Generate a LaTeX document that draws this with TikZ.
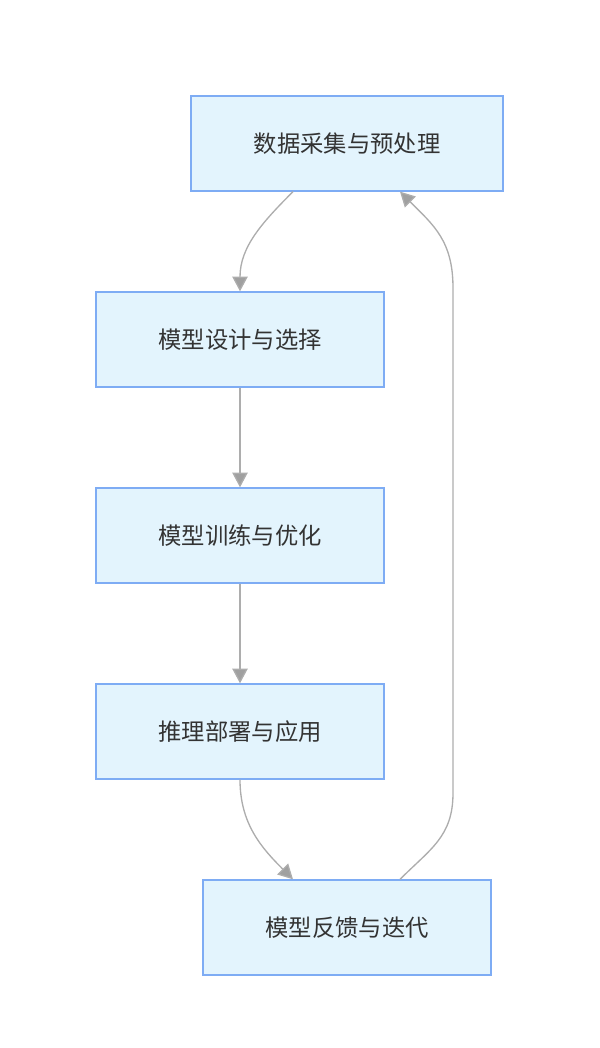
\documentclass[tikz,border=0pt]{standalone}
\usepackage{fontspec}
\newfontfamily\cjk{Noto Sans CJK SC}
\usetikzlibrary{arrows.meta,calc}

\definecolor{boxfill}{HTML}{E3F4FD}
\definecolor{boxline}{HTML}{7EACF4}
\definecolor{linkgray}{HTML}{ADADAD}
\definecolor{tipgray}{HTML}{A0A0A0}
\definecolor{txt}{HTML}{333333}

\tikzset{
  stage/.style={draw=boxline, fill=boxfill, line width=1pt,
    minimum width=216pt, minimum height=71.25pt, inner sep=0pt,
    text=txt, font=\cjk\fontsize{17.5}{20}\selectfont},
  link/.style={draw=linkgray, line width=1pt,
    -{Triangle[length=11pt,width=11.5pt,fill=tipgray]}}
}

\begin{document}
\begin{tikzpicture}[x=0.75pt,y=0.75pt]
        \useasboundingbox (0,0) rectangle (599,1048);

        % ---- the five stages ----------------------------
        \node[stage, minimum width=234pt] (data)   at (347,904.5) {数据采集与预处理};
        \node[stage] (design)   at (240,708.5) {模型设计与选择};
        \node[stage] (train)    at (240,512.5) {模型训练与优化};
        \node[stage] (deploy)   at (240,316.5) {推理部署与应用};
        \node[stage] (feedback) at (347,120.5) {模型反馈与迭代};

        % ---- bends of the return path -------------------
        \coordinate (backlow)  at (453,255);
        \coordinate (backhigh) at (453,760);

        % ---- links --------------------------------------
        \draw[link] ($(data.south)+(-54,0)$) to[out=-135,in=90] (design.north);
        \draw[link] (design.south) -- (train.north);
        \draw[link] (train.south) -- (deploy.north);
        \draw[link] (deploy.south) to[out=-90,in=135] ($(feedback.north)+(-54,0)$);
        \draw[link] ($(feedback.north)+(53,0)$) to[out=45,in=-90,looseness=1.1] (backlow)
          -- (backhigh) to[out=90,in=-45,looseness=1.1] ($(data.south)+(53,0)$);
\end{tikzpicture}
\end{document}
